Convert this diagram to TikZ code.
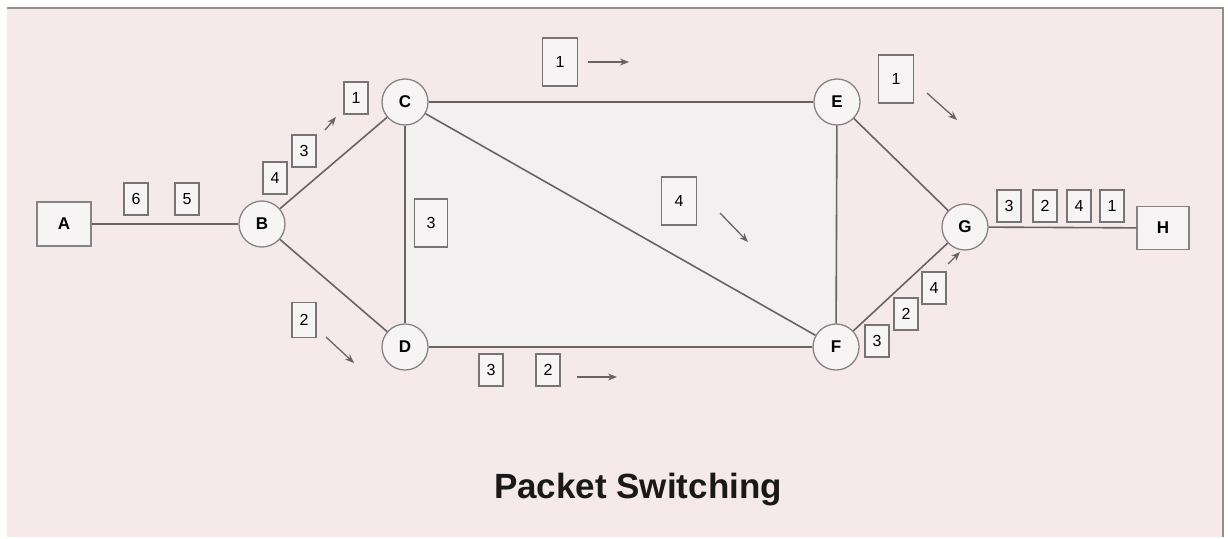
\documentclass[tikz,border=0pt]{standalone}
\usepackage{fontspec}
\setmainfont{Liberation Sans}
\usetikzlibrary{arrows.meta}
\definecolor{bgpink}{RGB}{245,233,233}
\definecolor{inner}{RGB}{242,240,240}
\definecolor{boxfill}{RGB}{246,244,244}
\definecolor{edgegray}{RGB}{105,100,100}
\definecolor{framegray}{RGB}{150,140,140}
\tikzset{
  router/.style={circle,draw=edgegray!80,line width=1.3pt,fill=boxfill,minimum size=46pt,inner sep=0pt,font=\fontsize{17}{17}\selectfont\bfseries},
  host/.style={rectangle,draw=edgegray!80,line width=1.3pt,fill=boxfill,minimum width=54pt,minimum height=44pt,inner sep=0pt,font=\fontsize{17}{17}\selectfont\bfseries},
  pkt/.style={rectangle,draw=edgegray!90,line width=1.1pt,fill=boxfill,minimum width=24pt,minimum height=32pt,inner sep=0pt,font=\fontsize{16}{16}\selectfont},
  bigpkt/.style={pkt,minimum width=35pt,minimum height=48pt},
  link/.style={draw=edgegray,line width=1.6pt},
  mv/.style={draw=edgegray,line width=1.3pt,-{Stealth[length=9pt,width=7pt]}},
}
\begin{document}
\begin{tikzpicture}[x=1pt,y=-1pt]
\useasboundingbox (0,0) rectangle (1228,538);
\fill[white] (0,0) rectangle (1228,538);
\fill[bgpink] (7,8) rectangle (1223,537);
\draw[framegray,line width=1.2pt] (7,8) -- (1223,8) -- (1223,537);
% inner region
\fill[inner] (405,102) rectangle (836,347);
% nodes
\node[host] (A) at (64,224) {A};
\node[router] (B) at (262,224) {B};
\node[router] (C) at (405,102) {C};
\node[router] (D) at (405,347) {D};
\node[router] (E) at (837,102) {E};
\node[router] (F) at (836,347) {F};
\node[router] (G) at (965,227) {G};
\node[host,minimum width=52pt,minimum height=43pt] (H) at (1163,228) {H};
% links
\path[link] (A) -- (B);
\path[link] (B) -- (C);
\path[link] (B) -- (D);
\path[link] (C) -- (E);
\path[link] (C) -- (D);
\path[link] (C) -- (F);
\path[link] (D) -- (F);
\path[link] (E) -- (F);
\path[link] (E) -- (G);
\path[link] (F) -- (G);
\path[link] (G) -- (H);
% packets
\node[pkt] (p6) at (136,199) {6};
\node[pkt] (p5) at (187,199) {5};
\node[pkt] (p4a) at (275,178) {4};
\node[pkt] (p3a) at (304,151) {3};
\node[pkt] (p1a) at (356,98) {1};
\coordinate (a1t) at (325,130); \coordinate (a1h) at (336,117);
\draw[mv] (a1t) -- (a1h);
\node[bigpkt,minimum width=33pt,minimum height=48pt] (p3b) at (431,223) {3};
\node[bigpkt] (p1b) at (560,62) {1};
\coordinate (a2t) at (588,62); \coordinate (a2h) at (629,62);
\draw[mv] (a2t) -- (a2h);
\node[bigpkt] (p1c) at (896,79) {1};
\coordinate (a3t) at (927,93); \coordinate (a3h) at (957,120);
\draw[mv] (a3t) -- (a3h);
\node[bigpkt] (p4b) at (679,201) {4};
\coordinate (a4t) at (720,213); \coordinate (a4h) at (748,242);
\draw[mv] (a4t) -- (a4h);
\node[pkt,minimum height=35pt] (p2a) at (304,320) {2};
\coordinate (a5t) at (326,337); \coordinate (a5h) at (354,363);
\draw[mv] (a5t) -- (a5h);
\node[pkt] (p3c) at (491,370) {3};
\node[pkt] (p2b) at (548,370) {2};
\coordinate (a6t) at (577,377); \coordinate (a6h) at (617,377);
\draw[mv] (a6t) -- (a6h);
\node[pkt] (p3d) at (877,341) {3};
\node[pkt] (p2c) at (906,314) {2};
\node[pkt] (p4c) at (934,288) {4};
\coordinate (a7t) at (948,264); \coordinate (a7h) at (960,252);
\draw[mv] (a7t) -- (a7h);
\node[pkt] (q3) at (1009,206) {3};
\node[pkt] (q2) at (1045,206) {2};
\node[pkt] (q4) at (1079,206) {4};
\node[pkt] (q1) at (1112,206) {1};
% title
\node[font=\fontsize{35}{35}\selectfont\bfseries,text=black!90] (title) at (638,490) {Packet Switching};
\end{tikzpicture}
\end{document}
